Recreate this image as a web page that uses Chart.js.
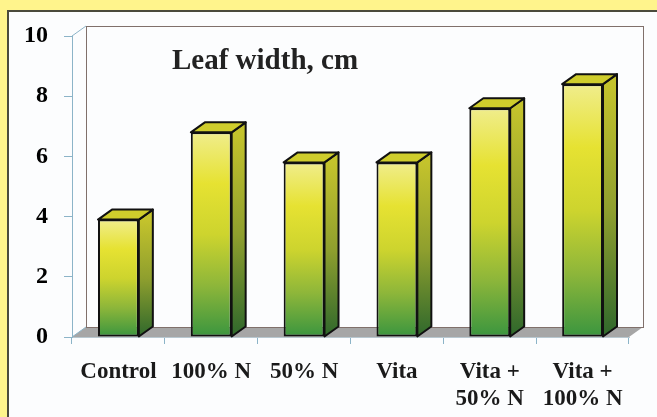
<!DOCTYPE html>
<html>
<head>
<meta charset="utf-8">
<script src="https://cdn.jsdelivr.net/npm/chart.js@4.4.1/dist/chart.umd.min.js"></script>
<style>
  html, body { margin: 0; padding: 0; }
  body { width: 657px; height: 417px; background: #fff48c; overflow: hidden; position: relative; }
  #panel { position: absolute; left: 7px; top: 10px; width: 700px; height: 450px; background: #fcfdfe; border: 2px solid #4b4a3c; }
  #wrap { position: absolute; left: 0; top: 0; width: 657px; height: 417px; }
</style>
</head>
<body>
<div id="panel"></div>
<div id="wrap"><canvas id="chart"></canvas></div>
<script>
// data
const categories = ['Control', '100% N', '50% N', 'Vita', ['Vita +', '50% N'], ['Vita +', '100% N']];
const leafWidth = [3.9, 6.8, 5.8, 5.8, 7.6, 8.4];
const yTicks = [0, 2, 4, 6, 8, 10];
const chartTitle = 'Leaf width, cm';

// 3d depth of bars / walls
const DX = 14, DY = 10;
const serif = "'Liberation Serif', 'Times New Roman', serif";

function frontFill(c) {
  const chart = c.chart;
  if (!chart.chartArea || c.type !== 'data') return '#e6e232';
  const ys = chart.scales.y;
  const top = ys.getPixelForValue(c.raw), base = ys.getPixelForValue(0);
  const g = chart.ctx.createLinearGradient(0, top, 0, base);
  g.addColorStop(0, '#f0ed8c');
  g.addColorStop(0.25, '#e6e232');
  g.addColorStop(0.5, '#cdd42e');
  g.addColorStop(0.75, '#8db63a');
  g.addColorStop(1, '#3a953f');
  return g;
}

const walls = {
  id: 'walls',
  beforeDatasetsDraw(chart) {
    const { ctx } = chart;
    const { left, right, top, bottom } = chart.chartArea;
    ctx.save();
    // floor
    ctx.fillStyle = '#a6a6a6';
    ctx.beginPath();
    ctx.moveTo(left, bottom);
    ctx.lineTo(left + DX, bottom - DY);
    ctx.lineTo(right + DX, bottom - DY);
    ctx.lineTo(right, bottom);
    ctx.closePath();
    ctx.fill();
    // back wall
    ctx.lineWidth = 1;
    ctx.strokeStyle = '#80706b';
    ctx.strokeRect(left + DX + 0.5, top - DY + 0.5, right - left, bottom - top);
    ctx.strokeStyle = '#8cb4c8';
    ctx.beginPath();
    ctx.moveTo(left, top);
    ctx.lineTo(left + DX, top - DY);
    ctx.moveTo(left, bottom);
    ctx.lineTo(left + DX, bottom - DY);
    ctx.stroke();
    ctx.restore();
  },
  afterDatasetsDraw(chart) {
    const { ctx } = chart;
    const meta = chart.getDatasetMeta(0);
    ctx.save();
    ctx.lineWidth = 2;
    ctx.lineJoin = 'round';
    ctx.strokeStyle = '#111';
    meta.data.forEach(bar => {
      const { x, y, base, width } = bar.getProps(['x', 'y', 'base', 'width'], true);
      const l = x - width / 2, r = x + width / 2;
      // side face
      const g = ctx.createLinearGradient(0, y, 0, base);
      g.addColorStop(0, '#c4c32c');
      g.addColorStop(0.5, '#8f9f2e');
      g.addColorStop(1, '#2f682c');
      ctx.fillStyle = g;
      ctx.beginPath();
      ctx.moveTo(r, y);
      ctx.lineTo(r + DX, y - DY);
      ctx.lineTo(r + DX, base - DY);
      ctx.lineTo(r, base);
      ctx.closePath();
      ctx.fill();
      ctx.stroke();
      // top face
      ctx.fillStyle = '#cfcd2c';
      ctx.beginPath();
      ctx.moveTo(l, y);
      ctx.lineTo(l + DX, y - DY);
      ctx.lineTo(r + DX, y - DY);
      ctx.lineTo(r, y);
      ctx.closePath();
      ctx.fill();
      ctx.stroke();
    });
    ctx.restore();
  },
  afterDraw(chart) {
    const { ctx } = chart;
    ctx.save();
    ctx.font = 'bold 29px ' + serif;
    ctx.fillStyle = '#222';
    ctx.textBaseline = 'alphabetic';
    ctx.fillText(chartTitle, 172, 69);
    ctx.restore();
  }
};

new Chart(document.getElementById('chart'), {
  type: 'bar',
  data: {
    labels: categories,
    datasets: [{
      label: chartTitle,
      data: leafWidth,
      backgroundColor: frontFill,
      borderColor: '#111',
      borderWidth: 2,
      borderSkipped: false,
      barPercentage: 0.44,
      categoryPercentage: 1
    }]
  },
  options: {
    responsive: true,
    maintainAspectRatio: false,
    animation: false,
    layout: { padding: { top: 36, right: 28, left: 0, bottom: 0 } },
    plugins: { legend: { display: false }, tooltip: { enabled: false }, title: { display: false } },
    scales: {
      x: {
        afterFit(s) { s.height = 80; },
        grid: { drawOnChartArea: false, drawTicks: true, tickLength: 7, color: '#8cb4c8' },
        border: { display: true, color: '#b8c8d0' },
        ticks: { color: '#1a1a1a', padding: 15, maxRotation: 0, font: { family: serif, size: 23, weight: 'bold', lineHeight: 1.17 } }
      },
      y: {
        min: 0,
        max: 10,
        afterFit(s) { s.width = 72; },
        afterBuildTicks(s) { s.ticks = yTicks.map(v => ({ value: v })); },
        grid: { drawOnChartArea: false, drawTicks: true, tickLength: 8, color: '#8cb4c8' },
        border: { display: true, color: '#8cb4c8' },
        ticks: { color: '#000', padding: 16, font: { family: serif, size: 24, weight: 'bold' } }
      }
    }
  },
  plugins: [walls]
});
</script>
</body>
</html>
